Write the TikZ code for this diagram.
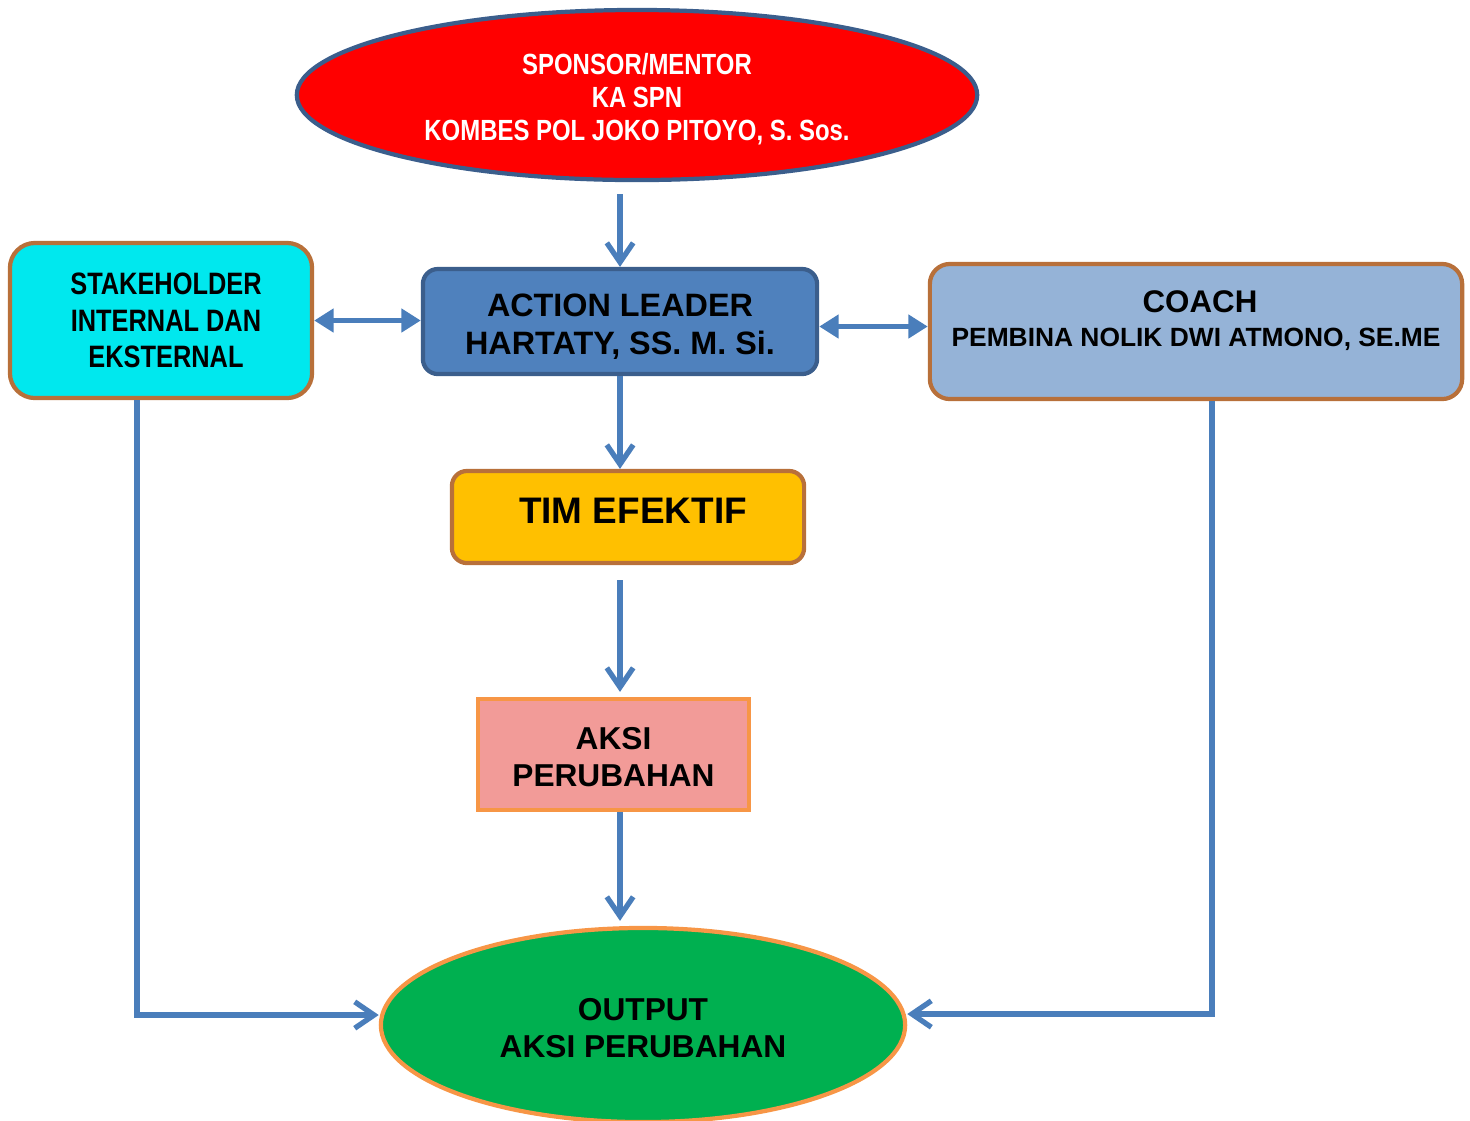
\documentclass[tikz,border=0pt]{standalone}
\usepackage{fontspec}
\setmainfont{Liberation Sans}
\newfontfamily\narrowfont[FakeStretch=0.82]{Liberation Sans}
\usetikzlibrary{shapes.geometric,arrows.meta}

\definecolor{sponsorred}{HTML}{FF0000}
\definecolor{darkblue}{HTML}{3B5E8C}
\definecolor{stakecyan}{HTML}{00E8EE}
\definecolor{brownline}{HTML}{B8703A}
\definecolor{leaderblue}{HTML}{4F81BD}
\definecolor{coachblue}{HTML}{95B3D7}
\definecolor{timgold}{HTML}{FFC000}
\definecolor{aksipink}{HTML}{F29B98}
\definecolor{orangeline}{HTML}{F79646}
\definecolor{outputgreen}{HTML}{00B050}
\definecolor{arrowblue}{HTML}{4A7EBB}

\tikzset{box/.style={draw=brownline,line width=1.2pt,rounded corners=0.2cm,
                align=center,inner sep=0pt,font=\bfseries},
        oval/.style={ellipse,line width=1.2pt,align=center,inner sep=0pt,font=\bfseries},
        vee/.style={draw=arrowblue,line width=1.5pt,
                -{Straight Barb[length=5.5pt,width=7.5pt]}},
        twoway/.style={draw=arrowblue,line width=1.5pt,
                {Triangle[length=5.5pt,width=6.5pt]}-{Triangle[length=5.5pt,width=6.5pt]}}}

\begin{document}
\begin{tikzpicture}[x=0.01cm,y=-0.01cm]
        \useasboundingbox (0,0) rectangle (1470,1120);

        \node[oval,draw=darkblue,fill=sponsorred,text=white,minimum width=6.8cm,minimum height=1.7cm,
              font=\narrowfont\bfseries\fontsize{8.3pt}{9.4pt}\selectfont] (sponsor) at (637,95)
              {\rule{0pt}{8.2pt}SPONSOR/MENTOR\\KA SPN\\KOMBES POL JOKO PITOYO, S. Sos.};
        \node[box,fill=stakecyan,rounded corners=0.25cm,minimum width=3.02cm,minimum height=1.55cm,
              font=\narrowfont\bfseries\fontsize{8.8pt}{10.4pt}\selectfont] (stake) at (161,320.5)
              {\hspace{0.1cm}STAKEHOLDER\\\hspace{0.1cm}INTERNAL DAN\\\hspace{0.1cm}EKSTERNAL};
        \node[box,draw=darkblue,fill=leaderblue,rounded corners=0.15cm,minimum width=3.94cm,minimum height=1.05cm,
              font=\bfseries\fontsize{9.2pt}{10.6pt}\selectfont] (leader) at (620,321.5)
              {\rule{0pt}{9.4pt}ACTION LEADER\\HARTATY, SS. M. Si.};
        \node[box,fill=coachblue,minimum width=5.32cm,minimum height=1.35cm,text depth=0.26cm,
              font=\bfseries\fontsize{8.9pt}{9.6pt}\selectfont] (coach) at (1196,331.5)
              {\hspace{0.08cm}COACH\\{\fontsize{7.5pt}{9pt}\selectfont PEMBINA NOLIK DWI ATMONO, SE.ME}};
        \node[box,fill=timgold,rounded corners=0.15cm,minimum width=3.52cm,minimum height=0.92cm,
              text depth=0.12cm,font=\bfseries\fontsize{10.5pt}{12pt}\selectfont] (tim) at (628,517)
              {\hspace{0.1cm}TIM EFEKTIF};
        \node[box,draw=orangeline,fill=aksipink,rounded corners=0pt,minimum width=2.71cm,minimum height=1.11cm,
              font=\bfseries\fontsize{9pt}{10.5pt}\selectfont] (aksi) at (613.5,754.5)
              {\rule{0pt}{8pt}AKSI\\PERUBAHAN};
        \node[oval,draw=orangeline,fill=outputgreen,minimum width=5.24cm,minimum height=1.94cm,
              font=\bfseries\fontsize{9pt}{10.5pt}\selectfont] (output) at (643,1025)
              {\rule{0pt}{8pt}OUTPUT\\AKSI PERUBAHAN};

        \draw [vee,shorten <=0.12cm] (leader.north |- sponsor.south) -- (leader.north);
        \draw [vee] (leader.south) -- (leader.south |- tim.north);
        \draw [vee,shorten <=0.15cm,shorten >=0.05cm] (tim.south -| leader.south) -- (aksi.north -| leader.south);
        \draw [vee,shorten >=0.05cm] (aksi.south -| leader.south) -- (output.north -| leader.south);
        \draw [twoway] (stake.east) -- (stake.east -| leader.west);
        \draw [twoway] ([yshift=-0.05cm]leader.east) -- ([yshift=-0.05cm]leader.east -| coach.west);
        \draw [vee] ([xshift=-0.24cm]stake.south) |- ([yshift=0.1cm]output.west);
        \draw [vee] ([xshift=0.16cm]coach.south) |- ([yshift=0.11cm]output.east);
      \end{tikzpicture}
\end{document}
